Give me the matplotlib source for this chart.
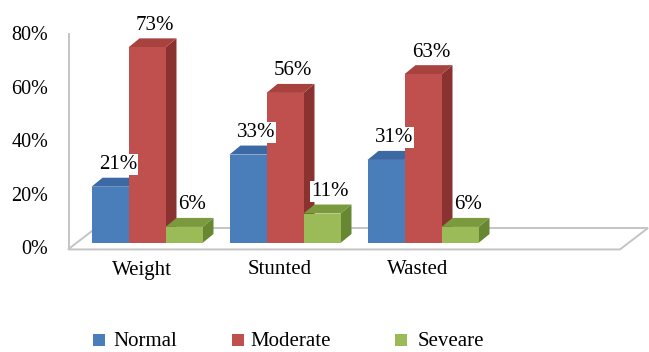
import numpy as np
import matplotlib
matplotlib.use('Agg')
import matplotlib.pyplot as plt
from matplotlib.patches import Polygon, Rectangle

plt.rcParams['font.family'] = ['Liberation Serif', 'DejaVu Serif']

categories = ['Weight', 'Stunted', 'Wasted']
series = ['Normal', 'Moderate', 'Seveare']
normal = [21, 33, 31]
moderate = [73, 56, 63]
severe = [6, 11, 6]
y_ticks = [0, 20, 40, 60, 80]

values = [normal, moderate, severe]
front_col = ['#4a7ebb', '#c0504d', '#9bbb59']
top_col = ['#3c68a3', '#a8423f', '#7b9a3d']
side_col = ['#30568a', '#8a3230', '#688733']

# one x unit = 138 px per category, one y unit (1%) = 2.68 px
px = 1 / 138.0
py = 1 / 2.68
bar_w = 37 * px
depth_x = 11 * px
depth_y = 9 * py

fig = plt.figure(figsize=(6.49, 3.52), dpi=100)
ax = fig.add_axes([0, 0, 1, 1])
ax.set_xlim(-147 * px, (649 - 147) * px)
ax.set_ylim((243 - 352) * py, 243 * py)
ax.axis('off')

# floor and value axis
floor_front = -2.4
floor_back = 5.6
floor = Polygon([(-79 * px, floor_front), (473 * px, floor_front),
                 (501 * px, floor_back), (-51 * px, floor_back)],
                closed=True, facecolor='white', edgecolor='#c4c4c4', lw=1.4, zorder=1)
ax.add_patch(floor)
ax.plot([-78 * px, -78 * px], [floor_front, 78], color='#c4c4c4', lw=1.4, zorder=1)

for v in y_ticks:
    ax.text(-99 * px, v - 2.6, f'{v}%', ha='right', va='center', fontsize=14.5)

x = np.arange(len(categories))
for i in range(len(categories)):
    for j in range(len(series)):
        val = values[j][i]
        left = x[i] + (j - 1.5) * bar_w
        right = left + bar_w
        side = Polygon([(right, 0), (right + depth_x, depth_y),
                        (right + depth_x, val + depth_y), (right, val)],
                       closed=True, facecolor=side_col[j], edgecolor='none', zorder=2 + i * 3 + j)
        top = Polygon([(left, val), (right, val), (right + depth_x, val + depth_y),
                       (left + depth_x, val + depth_y)],
                      closed=True, facecolor=top_col[j], edgecolor='none', zorder=2 + i * 3 + j)
        ax.add_patch(side)
        ax.add_patch(top)
        ax.bar(left, val, width=bar_w, align='edge', color=front_col[j],
               edgecolor='none', zorder=2 + i * 3 + j + 0.5)

for i in range(len(categories)):
    for j in range(len(series)):
        val = values[j][i]
        cx = x[i] + (j - 1) * bar_w + 8 * px
        ax.text(cx, val + 22 * py, f'{val}%', ha='center', va='center', fontsize=15,
                zorder=30, bbox=dict(boxstyle='square,pad=0.05', fc='white', ec='none'))
    ax.text(x[i] - 5 * px, -27 * py, categories[i], ha='center', va='center', fontsize=15)

# legend
leg_y = (243 - 341) * py
sq_x = [93, 232, 395]
txt_x = [113, 250, 418]
for j in range(len(series)):
    ax.add_patch(Rectangle(((sq_x[j] - 147) * px, leg_y - 5 * py), 12 * px, 12 * py,
                           facecolor=front_col[j], edgecolor='none'))
    ax.text((txt_x[j] - 147) * px, leg_y, series[j], ha='left', va='center', fontsize=15)

plt.savefig('out.png', dpi=100)
